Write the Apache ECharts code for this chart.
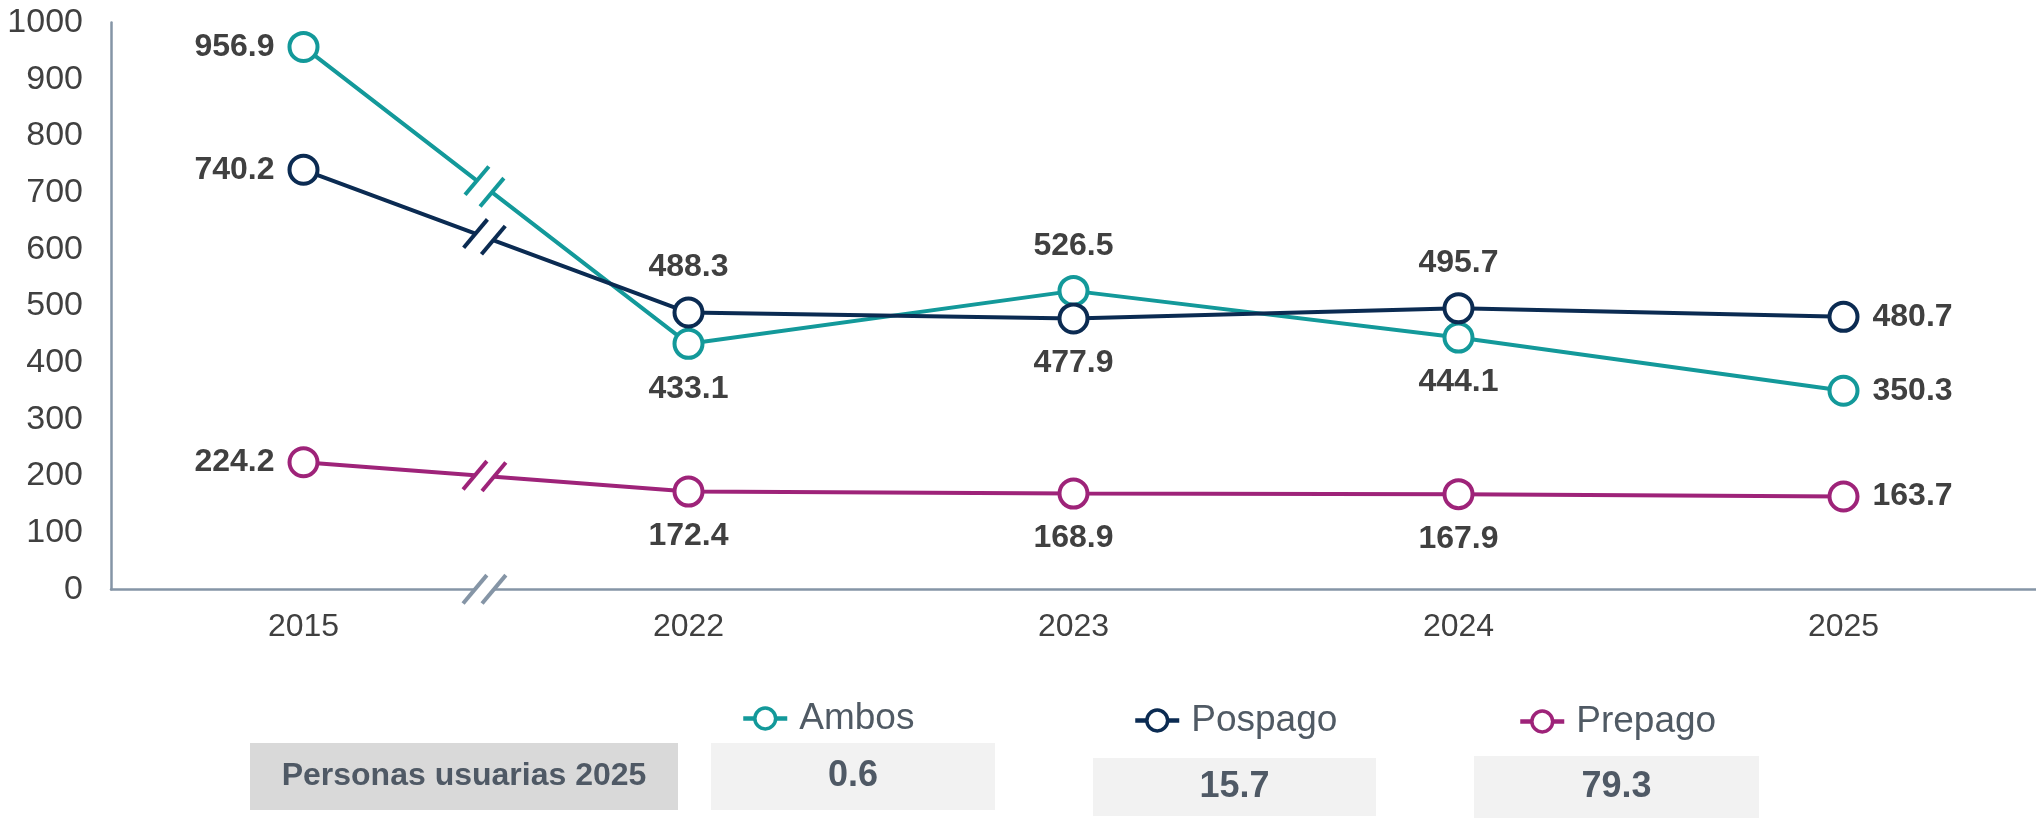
<!DOCTYPE html>
<html>
<head>
<meta charset="utf-8">
<script src="https://cdn.jsdelivr.net/npm/echarts@6/dist/echarts.min.js"></script>
<style>
  html, body { margin: 0; padding: 0; background: #fff; }
  #chart { width: 2036px; height: 818px; }
</style>
</head>
<body>
<div id="chart"></div>
<script>
var years = ['2015', '2022', '2023', '2024', '2025'];
var ambos = [956.9, 433.1, 526.5, 444.1, 350.3];
var pospago = [740.2, 488.3, 477.9, 495.7, 480.7];
var prepago = [224.2, 172.4, 168.9, 167.9, 163.7];
// where each value label sits around its point
var ambosLabelPos = ['left', 'bottom', 'top', 'bottom', 'right'];
var pospagoLabelPos = ['left', 'top', 'bottom', 'top', 'right'];
var prepagoLabelPos = ['left', 'bottom', 'bottom', 'bottom', 'right'];
var seriesNames = ['Ambos', 'Pospago', 'Prepago'];
var users2025 = [0.6, 15.7, 79.3];
var usersTitle = 'Personas usuarias 2025';

var FONT = '"Liberation Sans", Arial, sans-serif';
var colors = ['#13999A', '#0B2B52', '#9E2379'];
var axisColor = '#8595A6';

function makeSeries(name, values, positions, color) {
    return {
        name: name,
        type: 'line',
        data: values.map(function (v, i) {
            return { value: v, label: { position: positions[i] } };
        }),
        symbol: 'circle',
        symbolSize: 28,
        lineStyle: { color: color, width: 4 },
        itemStyle: { color: '#fff', borderColor: color, borderWidth: 4 },
        label: {
            show: true,
            distance: 13,
            fontSize: 32,
            fontWeight: 'bold',
            color: '#404040',
            fontFamily: FONT
        }
    };
}

function legendFor(i, left, top) {
    return {
        data: [{
            name: seriesNames[i],
            itemStyle: { color: '#fff', borderColor: colors[i], borderWidth: 3.5 },
            lineStyle: { color: colors[i], width: 4.5 }
        }],
        left: left,
        top: top,
        orient: 'horizontal',
        padding: 0,
        itemWidth: 44,
        itemHeight: 26,
        textStyle: { fontSize: 37, color: '#505A64', fontFamily: FONT, padding: [0, 0, 0, 7] }
    };
}

var option = {
    animation: false,
    grid: { left: 111, right: -8.5, top: 22.5, bottom: 228.7 },
    legend: [
        legendFor(0, 741, 700),
        legendFor(1, 1133, 702),
        legendFor(2, 1518, 703)
    ],
    xAxis: {
        type: 'category',
        data: years,
        boundaryGap: true,
        axisLine: { lineStyle: { color: axisColor, width: 2.5 } },
        axisTick: { show: false },
        axisLabel: { fontSize: 32, color: '#404040', margin: 22, fontFamily: FONT }
    },
    yAxis: {
        type: 'value',
        min: 0,
        max: 1000,
        interval: 100,
        axisLine: { show: true, lineStyle: { color: axisColor, width: 2.5 } },
        axisTick: { show: false },
        splitLine: { show: false },
        axisLabel: {
            fontSize: 34, color: '#404040', margin: 28, fontFamily: FONT,
            formatter: function (v) { return String(v); }
        }
    },
    series: [
        makeSeries(seriesNames[0], ambos, ambosLabelPos, colors[0]),
        makeSeries(seriesNames[1], pospago, pospagoLabelPos, colors[1]),
        makeSeries(seriesNames[2], prepago, prepagoLabelPos, colors[2])
    ]
};

var chart = echarts.init(document.getElementById('chart'));
chart.setOption(option);

// "//" break markers, placed between 2015 and 2022 using the axis scales
function breakMarks(p0, p1, color, t) {
    var dx = p1[0] - p0[0], dy = p1[1] - p0[1];
    var len = Math.sqrt(dx * dx + dy * dy);
    var ux = dx / len, uy = dy / len;
    var cx = p0[0] + dx * t, cy = p0[1] + dy * t;
    var g = 9.5;
    var a = [cx - ux * g, cy - uy * g], b = [cx + ux * g, cy + uy * g];
    var ang = 50 * Math.PI / 180;
    var sx = Math.cos(ang) * 18.5, sy = -Math.sin(ang) * 18.5;
    return [
        { type: 'line', z: 100, shape: { x1: a[0], y1: a[1], x2: b[0], y2: b[1] }, style: { stroke: '#fff', lineWidth: 10 } },
        { type: 'line', z: 101, shape: { x1: a[0] - sx, y1: a[1] - sy, x2: a[0] + sx, y2: a[1] + sy }, style: { stroke: color, lineWidth: 4 } },
        { type: 'line', z: 101, shape: { x1: b[0] - sx, y1: b[1] - sy, x2: b[0] + sx, y2: b[1] + sy }, style: { stroke: color, lineWidth: 4 } }
    ];
}

var graphics = [];
var allSeries = [ambos, pospago, prepago];
allSeries.forEach(function (vals, i) {
    var p0 = chart.convertToPixel({ seriesIndex: i }, [0, vals[0]]);
    var p1 = chart.convertToPixel({ seriesIndex: i }, [1, vals[1]]);
    graphics = graphics.concat(breakMarks(p0, p1, colors[i], 0.47));
});
var a0 = chart.convertToPixel({ seriesIndex: 0 }, [0, 0]);
var a1 = chart.convertToPixel({ seriesIndex: 0 }, [1, 0]);
graphics = graphics.concat(breakMarks(a0, a1, axisColor, 0.47));

// table of users under the legend
var boxes = [
    { x: 250, y: 743, w: 428, h: 67, fill: '#D9D9D9', text: usersTitle, size: 32 },
    { x: 711, y: 743, w: 284, h: 67, fill: '#F2F2F2', text: String(users2025[0]), size: 36 },
    { x: 1093, y: 758, w: 283, h: 58, fill: '#F2F2F2', text: String(users2025[1]), size: 36 },
    { x: 1474, y: 756, w: 285, h: 62, fill: '#F2F2F2', text: String(users2025[2]), size: 36 }
];
boxes.forEach(function (b) {
    graphics.push({ type: 'rect', z: 90, shape: { x: b.x, y: b.y, width: b.w, height: b.h }, style: { fill: b.fill } });
    graphics.push({
        type: 'text', z: 91,
        style: {
            text: b.text, x: b.x + b.w / 2, y: b.y + b.h / 2,
            align: 'center', verticalAlign: 'middle',
            fill: '#4F5965', font: 'bold ' + b.size + 'px ' + FONT
        }
    });
});

chart.setOption({ graphic: graphics });
</script>
</body>
</html>
